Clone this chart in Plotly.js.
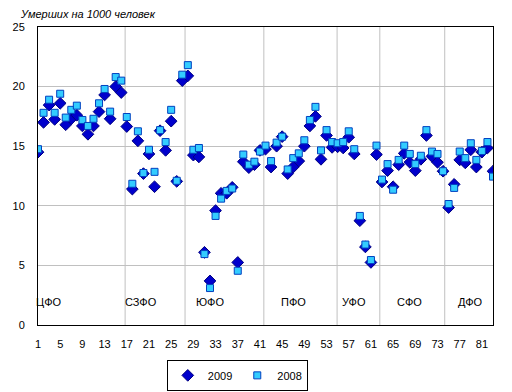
<!DOCTYPE html>
<html>
<head>
<meta charset="utf-8">
<script src="https://cdn.plot.ly/plotly-3.0.1.min.js"></script>
<style>html,body{margin:0;padding:0;background:#fff;}#chart{width:512px;height:392px;}</style>
</head>
<body>
<div id="chart"></div>
<script>
// Region numbers (1..83)
const regionIndex = Array.from({length: 83}, (_, k) => k + 1);
// Deaths per 1000 population, 2009
const deaths2009 = [
  14.5, 17.0, 18.45, 17.25, 18.6, 16.8, 17.3, 17.6, 16.7, 16.0,
  16.7, 17.9, 19.3, 17.3, 20.0, 19.5, 16.65, 11.4, 15.45, 12.7,
  14.35, 11.6, 16.3, 14.65, 17.1, 12.05, 20.5, 20.9, 14.25, 14.1,
  6.1, 3.7, 9.6, 11.05, 11.05, 11.55, 5.25, 13.7, 13.2, 13.45,
  14.65, 14.75, 13.25, 15.0, 15.8, 12.7, 13.25, 13.75, 15.0, 16.7,
  17.5, 13.9, 15.9, 14.9, 14.95, 14.85, 15.75, 14.35, 8.75, 6.55,
  5.25, 14.3, 12.0, 12.95, 11.6, 13.45, 14.4, 13.65, 12.95, 13.9,
  15.9, 14.15, 13.65, 12.9, 9.85, 11.8, 13.85, 13.6, 14.7, 13.25,
  14.5, 14.85, 12.9
];
// Deaths per 1000 population, 2008
const deaths2008 = [
  14.75, 17.8, 18.9, 17.8, 19.4, 17.4, 18.05, 18.4, 17.2, 16.7,
  17.3, 18.6, 19.8, 17.9, 20.8, 20.5, 17.45, 11.85, 16.25, 12.75,
  14.7, 12.85, 16.35, 15.35, 18.05, 12.1, 21.0, 21.8, 14.7, 14.85,
  5.95, 3.1, 9.15, 10.6, 11.25, 11.45, 4.55, 14.3, 13.45, 13.7,
  14.55, 15.05, 13.75, 15.3, 15.8, 13.05, 14.0, 14.4, 15.5, 17.2,
  18.3, 14.65, 16.35, 15.35, 15.25, 15.35, 16.25, 14.75, 9.15, 6.75,
  5.45, 15.05, 12.2, 13.5, 11.35, 13.85, 15.05, 14.35, 13.5, 14.2,
  16.35, 14.55, 14.35, 12.9, 10.15, 11.5, 14.55, 14.0, 15.25, 13.85,
  14.6, 15.35, 12.45
];
// Federal district labels
const districts = ["ЦФО", "СЗФО", "ЮФО", "ПФО", "УФО", "СФО", "ДФО"];
const seriesNames = ["2009", "2008"];
const yTitle = "Умерших на 1000 человек";
const xTicks = [1, 5, 9, 13, 17, 21, 25, 29, 33, 37, 41, 45, 49, 53, 57, 61, 65, 69, 73, 77, 81];

// layout helpers (positions only)
const districtLabelX = [3.0, 19.6, 32.0, 47.0, 57.9, 68.0, 79.0];
const districtLines = [16.7, 27.5, 41.7, 54.9, 62.6, 74.3];

const font = "Liberation Sans, Arial, sans-serif";

const traces = [
  {
    x: regionIndex, y: deaths2009, name: seriesNames[0], type: 'scatter', mode: 'markers',
    marker: {symbol: 'diamond', size: 9, color: '#0000cc', line: {color: '#000080', width: 1}}
  },
  {
    x: regionIndex, y: deaths2008, name: seriesNames[1], type: 'scatter', mode: 'markers',
    marker: {symbol: 'square', size: 7, color: '#33ccff', line: {color: '#0040c0', width: 1}}
  }
];

const shapes = districtLines.map(v => ({
  type: 'line', xref: 'x', yref: 'paper', x0: v, x1: v, y0: 0, y1: 1,
  line: {color: '#c0c0c0', width: 1}, layer: 'below'
}));

const annotations = districts.map((d, k) => ({
  x: districtLabelX[k], y: 1.95, xref: 'x', yref: 'y', text: d, showarrow: false,
  font: {family: font, size: 11, color: '#000'}, xanchor: 'center', yanchor: 'middle'
}));
annotations.push({
  x: -0.044, y: 1.044, xref: 'paper', yref: 'paper', text: '<i>' + yTitle + '</i>',
  showarrow: false, xanchor: 'left', yanchor: 'middle',
  font: {family: font, size: 11, color: '#000'}
});

const layout = {
  width: 512, height: 392,
  margin: {l: 38, r: 19, t: 27, b: 67, pad: 0, autoexpand: false},
  paper_bgcolor: '#fff', plot_bgcolor: '#fff',
  font: {family: font, size: 11, color: '#000'},
  showlegend: true,
  legend: {
    orientation: 'h', x: 0.438, xanchor: 'center', y: -0.117, yanchor: 'top',
    bordercolor: '#000', borderwidth: 1, font: {family: font, size: 11, color: '#000'},
    itemwidth: 30, tracegroupgap: 0, itemsizing: 'trace'
  },
  xaxis: {
    range: [1, 83], tickvals: xTicks, ticktext: xTicks.map(String),
    showgrid: false, zeroline: false, showline: true, linecolor: '#000', linewidth: 1,
    mirror: true, ticks: '', ticklabelstandoff: 9, tickfont: {size: 11}
  },
  yaxis: {
    range: [0, 25], dtick: 5, showgrid: true, gridcolor: '#c0c0c0', gridwidth: 1,
    zeroline: false, showline: true, linecolor: '#000', linewidth: 1, mirror: true,
    ticks: '', ticklabelstandoff: 10, tickfont: {size: 11}
  },
  shapes: shapes,
  annotations: annotations
};

Plotly.newPlot('chart', traces, layout, {displayModeBar: false, staticPlot: true});
</script>
</body>
</html>
